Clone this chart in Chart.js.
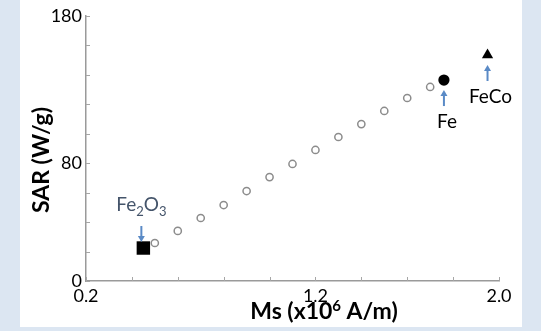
<!DOCTYPE html>
<html>
<head>
<meta charset="utf-8">
<script src="https://cdn.jsdelivr.net/npm/chart.js@4/dist/chart.umd.min.js"></script>
<style>
  html, body { margin: 0; padding: 0; background: #dce6f2; }
  #wrap { width: 541px; height: 331px; }
</style>
</head>
<body>
<div id="wrap"><canvas id="sarChart" width="541" height="331"></canvas></div>
<script>
// hollow circles: SAR vs Ms trend
const msTrend = [0.5, 0.6, 0.7, 0.8, 0.9, 1.0, 1.1, 1.2, 1.3, 1.4, 1.5, 1.6, 1.7];
const sarTrend = [25.8, 34.0, 42.8, 51.6, 61.1, 70.6, 79.5, 89.0, 97.8, 106.6, 115.5, 124.3, 131.8];

// named materials
const materials = ['Fe2O3', 'Fe', 'FeCo'];
const msMaterial = [0.45, 1.76, 1.95];
const sarMaterial = [22.4, 136.5, 153.5];

// tick labels that are shown
const xTickLabels = [0.2, 1.2, 2.0];
const yTickLabels = [0, 80, 180];

const FONT = 'Lato, "Open Sans", sans-serif';
const ARROW = '#5a8ac6';

function toPoints(xs, ys) {
  return xs.map((x, i) => ({ x: x, y: ys[i] }));
}

// background panel + inner tick marks + axis titles
const panelPlugin = {
  id: 'panel',
  beforeDraw(chart) {
    const ctx = chart.ctx;
    ctx.save();
    ctx.fillStyle = '#dce6f2';
    ctx.fillRect(0, 0, chart.width, chart.height);
    ctx.fillStyle = '#ffffff';
    ctx.fillRect(20, 0, 502, 327);
    ctx.restore();
  },
  afterDraw(chart) {
    const ctx = chart.ctx;
    const xs = chart.scales.x, ys = chart.scales.y;
    const area = chart.chartArea;
    ctx.save();
    ctx.strokeStyle = '#a6a6a6';
    ctx.lineWidth = 1;
    ys.ticks.forEach(t => {
      const py = Math.round(ys.getPixelForValue(t.value)) + 0.5;
      ctx.beginPath();
      ctx.moveTo(area.left, py);
      ctx.lineTo(area.left + 4, py);
      ctx.stroke();
    });
    xs.ticks.forEach(t => {
      const px = Math.round(xs.getPixelForValue(t.value)) + 0.5;
      ctx.beginPath();
      ctx.moveTo(px, area.bottom);
      ctx.lineTo(px, area.bottom - 4);
      ctx.stroke();
    });

    ctx.fillStyle = '#000000';
    ctx.textBaseline = 'alphabetic';
    // x title with superscript 6
    const big = 'bold 23px ' + FONT, small = 'bold 15px ' + FONT;
    const parts = [['Ms (x10', big, 0], ['6', small, -8], [' A/m)', big, 0]];
    let total = 0;
    parts.forEach(p => { ctx.font = p[1]; total += ctx.measureText(p[0]).width; });
    let cx = 324 - total / 2;
    ctx.textAlign = 'left';
    parts.forEach(p => {
      ctx.font = p[1];
      ctx.fillText(p[0], cx, 319 + p[2]);
      cx += ctx.measureText(p[0]).width;
    });
    // y title rotated
    ctx.save();
    ctx.translate(49, 160);
    ctx.rotate(-Math.PI / 2);
    ctx.font = big;
    ctx.textAlign = 'center';
    ctx.fillText('SAR (W/g)', 0, 0);
    ctx.restore();
    ctx.restore();
  }
};

function arrow(ctx, x, y1, y2) {
  // from y1 (tail) to y2 (head)
  const dir = y2 > y1 ? 1 : -1;
  ctx.beginPath();
  ctx.moveTo(x, y1);
  ctx.lineTo(x, y2 - dir * 5);
  ctx.stroke();
  ctx.beginPath();
  ctx.moveTo(x, y2);
  ctx.lineTo(x - 3.5, y2 - dir * 6);
  ctx.lineTo(x + 3.5, y2 - dir * 6);
  ctx.closePath();
  ctx.fill();
}

// material labels with arrows
const labelPlugin = {
  id: 'materialLabels',
  afterDatasetsDraw(chart) {
    const ctx = chart.ctx;
    const xs = chart.scales.x, ys = chart.scales.y;
    ctx.save();
    ctx.lineWidth = 2;
    materials.forEach((m, i) => {
      const px = xs.getPixelForValue(msMaterial[i]);
      const py = ys.getPixelForValue(sarMaterial[i]);
      ctx.strokeStyle = ARROW;
      ctx.fillStyle = ARROW;
      if (m === 'Fe2O3') {
        arrow(ctx, px - 2, py - 22, py - 6);
        // Fe2O3 with subscripts
        const big = '19px ' + FONT, small = '13px ' + FONT;
        const parts = [['Fe', big, 0], ['2', small, 5], ['O', big, 0], ['3', small, 5]];
        let total = 0;
        parts.forEach(p => { ctx.font = p[1]; total += ctx.measureText(p[0]).width; });
        let cx = px - 2 - total / 2;
        ctx.fillStyle = '#44546a';
        ctx.textAlign = 'left';
        ctx.textBaseline = 'alphabetic';
        parts.forEach(p => {
          ctx.font = p[1];
          ctx.fillText(p[0], cx, py - 37 + p[2]);
          cx += ctx.measureText(p[0]).width;
        });
      } else {
        arrow(ctx, px, py + 26, py + 10);
        ctx.fillStyle = '#000000';
        ctx.font = '19px ' + FONT;
        ctx.textAlign = 'center';
        ctx.textBaseline = 'middle';
        ctx.fillText(m, px + 3, py + 42);
      }
    });
    ctx.restore();
  }
};

new Chart(document.getElementById('sarChart'), {
  type: 'scatter',
  data: {
    datasets: [
      {
        label: 'trend',
        data: toPoints(msTrend, sarTrend),
        pointStyle: 'circle',
        pointRadius: 3.6,
        pointBorderWidth: 1.5,
        pointBorderColor: '#8c8c8c',
        pointBackgroundColor: '#ffffff'
      },
      {
        label: 'Fe2O3',
        data: [{ x: msMaterial[0], y: sarMaterial[0] }],
        pointStyle: 'rect',
        pointRadius: 9.5,
        pointBorderWidth: 0,
        pointBackgroundColor: '#000000'
      },
      {
        label: 'Fe',
        data: [{ x: msMaterial[1], y: sarMaterial[1] }],
        pointStyle: 'circle',
        pointRadius: 5.6,
        pointBorderWidth: 0,
        pointBackgroundColor: '#000000'
      },
      {
        label: 'FeCo',
        data: [{ x: msMaterial[2], y: sarMaterial[2] }],
        pointStyle: 'triangle',
        pointRadius: 6.5,
        pointBorderWidth: 0,
        pointBackgroundColor: '#000000'
      }
    ]
  },
  options: {
    responsive: false,
    animation: false,
    events: [],
    layout: { padding: { top: 16, right: 42, left: 0, bottom: 0 } },
    plugins: {
      legend: { display: false },
      tooltip: { enabled: false }
    },
    scales: {
      x: {
        type: 'linear',
        min: 0.2,
        max: 2.0,
        afterFit: s => { s.height = 50; },
        grid: { display: false, drawTicks: false },
        border: { display: true, color: '#9a9a9a', width: 1.5 },
        ticks: {
          stepSize: 0.2,
          autoSkip: false,
          maxRotation: 0,
          padding: 4,
          color: '#000000',
          font: { family: FONT, size: 18 },
          callback: v => xTickLabels.some(t => Math.abs(t - v) < 1e-6) ? v.toFixed(1) : ''
        }
      },
      y: {
        min: 0,
        max: 180,
        afterFit: s => { s.width = 86; },
        grid: { display: false, drawTicks: false },
        border: { display: true, color: '#9a9a9a', width: 1.5 },
        ticks: {
          stepSize: 20,
          autoSkip: false,
          padding: 4,
          color: '#000000',
          font: { family: FONT, size: 18 },
          callback: v => yTickLabels.includes(v) ? String(v) : ''
        }
      }
    }
  },
  plugins: [panelPlugin, labelPlugin]
});
</script>
</body>
</html>
